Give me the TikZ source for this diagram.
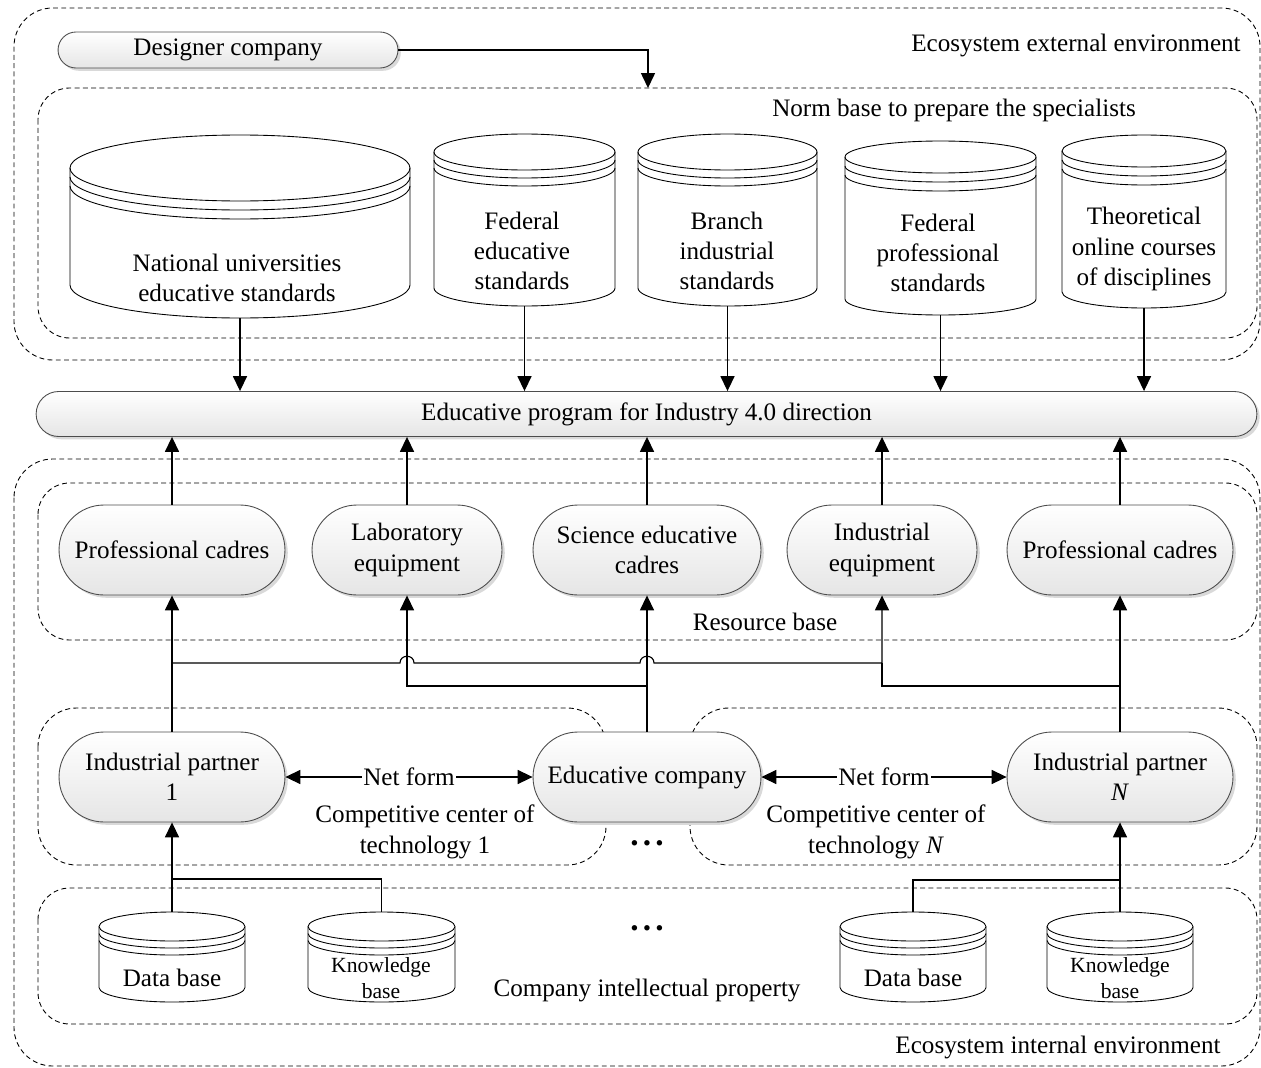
\documentclass[tikz,border=0pt]{standalone}
\usepackage{fontspec}
\setmainfont{Liberation Serif}
\usetikzlibrary{arrows.meta,shapes.misc,shadows,calc}

\newcommand\msz{\fontsize{14.3}{17.3}\selectfont}
\newcommand\ssz{\fontsize{12.3}{15}\selectfont}

\tikzset{
  region/.style={draw=black, line width=0.5pt, dash pattern=on 2.8pt off 1.9pt},
  pill/.style={rounded rectangle, draw=black!70, line width=0.5pt,
    top color=white, bottom color=black!10,
    drop shadow={shadow xshift=1.6pt, shadow yshift=-1.6pt, fill=black!15, opacity=1},
    align=center, font=\msz, inner sep=0pt},
  cylline/.style={draw=black, line width=0.5pt},
  lbl/.style={font=\msz, align=center, inner sep=0pt},
  conn/.style={draw=black, line width=0.65pt},
  arr/.style={conn, -{Triangle[length=8.5pt,width=8pt]}},
  darr/.style={conn, {Triangle[length=8.5pt,width=8pt]}-{Triangle[length=8.5pt,width=8pt]}},
}

% name, x1, x2, ytop, ybot, ry, gap
\newcommand\cylinder[7]{%
  \pgfmathsetmacro\cylcx{(#2+#3)/2}%
  \pgfmathsetmacro\cylkx{0.5523*(#3-#2)/2}%
  \pgfmathsetmacro\cylky{0.5523*#6}%
  \pgfmathsetmacro\cylyc{#4+#6}%
  \pgfmathsetmacro\cylyb{#5-#6}%
  \pgfmathsetmacro\cylya{\cylyc+#7}%
  \pgfmathsetmacro\cylyd{\cylyc+2*#7}%
  \filldraw[cylline, fill=white] (#2,\cylyc) -- (#2,\cylyb)
    .. controls (#2,\cylyb+\cylky) and (\cylcx-\cylkx,#5) .. (\cylcx,#5)
    .. controls (\cylcx+\cylkx,#5) and (#3,\cylyb+\cylky) .. (#3,\cylyb)
    -- (#3,\cylyc)
    .. controls (#3,\cylyc-\cylky) and (\cylcx+\cylkx,#4) .. (\cylcx,#4)
    .. controls (\cylcx-\cylkx,#4) and (#2,\cylyc-\cylky) .. (#2,\cylyc) -- cycle;
  \draw[cylline] (#2,\cylyc) .. controls (#2,\cylyc+\cylky) and (\cylcx-\cylkx,\cylyc+#6) .. (\cylcx,\cylyc+#6)
    .. controls (\cylcx+\cylkx,\cylyc+#6) and (#3,\cylyc+\cylky) .. (#3,\cylyc);
  \draw[cylline] (#2,\cylya) .. controls (#2,\cylya+\cylky) and (\cylcx-\cylkx,\cylya+#6) .. (\cylcx,\cylya+#6)
    .. controls (\cylcx+\cylkx,\cylya+#6) and (#3,\cylya+\cylky) .. (#3,\cylya);
  \draw[cylline] (#2,\cylyd) .. controls (#2,\cylyd+\cylky) and (\cylcx-\cylkx,\cylyd+#6) .. (\cylcx,\cylyd+#6)
    .. controls (\cylcx+\cylkx,\cylyd+#6) and (#3,\cylyd+\cylky) .. (#3,\cylyd);
  \node[inner sep=0pt, minimum width={(#3-#2)*0.02cm}, minimum height={(#5-#4)*0.02cm}] (#1) at (\cylcx,{(#4+#5)/2}) {};
}

\begin{document}
\begin{tikzpicture}[x=0.02cm, y=-0.02cm]
\useasboundingbox (0,0) rectangle (1261,1068);

% ---------- regions ----------
\draw[region, rounded corners=22pt] (14,8) rectangle (1260,360);
\draw[region, rounded corners=18pt] (38,88) rectangle (1257,338);
\draw[region, rounded corners=22pt] (14,459) rectangle (1260,1066);
\draw[region, rounded corners=18pt] (38,483) rectangle (1257,640);
\draw[region, rounded corners=22pt] (38,708) rectangle (606,865);
\draw[region, rounded corners=22pt] (690,708) rectangle (1257,865);
\draw[region, rounded corners=18pt] (38,888) rectangle (1257,1024);

% ---------- region labels ----------
\node[lbl] (lext) at (1076,45) {Ecosystem external environment};
\node[lbl] (lnorm) at (954,110) {Norm base to prepare the specialists};
\node[lbl] (lres) at (765,622) {Resource base};
\node[lbl] (lcc1) at (425,832) {Competitive center of\\technology 1};
\node[lbl] (lccN) at (876,832) {Competitive center of\\technology \textit{N}};
\node[lbl] (lip) at (647,990) {Company intellectual property};
\node[lbl] (lint) at (1058,1047) {Ecosystem internal environment};
\node[lbl, font=\fontsize{19}{19}\selectfont\bfseries] (dots1) at (647,843) {.\kern2.4pt.\kern2.4pt.};
\node[lbl, font=\fontsize{19}{19}\selectfont\bfseries] (dots2) at (647,928) {.\kern2.4pt.\kern2.4pt.};

% ---------- designer ----------
\node[pill, minimum width=6.8cm, minimum height=0.72cm] (des) at (228,50) {Designer company};
\coordinate (normtop) at (648,88);
\draw[arr] (des.east) -| (normtop);

% ---------- norm base cylinders ----------
\cylinder{c1}{70}{410}{135}{318}{33}{9}
\cylinder{c2}{434}{615}{134}{306}{18}{8}
\cylinder{c3}{638}{817}{134}{306}{18}{8}
\cylinder{c4}{845}{1036}{141}{315}{16}{9}
\cylinder{c5}{1062}{1226}{135}{308}{16}{9}
\node[lbl] (t1) at (237,278) {National universities\\educative standards};
\node[lbl] (t2) at (522,251) {Federal\\educative\\standards};
\node[lbl] (t3) at (727,251) {Branch\\industrial\\standards};
\node[lbl] (t4) at (938,253) {Federal\\professional\\standards};
\node[lbl] (t5) at (1144,249) {Theoretical\\online courses\\of disciplines};

% ---------- program bar ----------
\node[pill, minimum width=24.42cm, minimum height=0.9cm] (bar) at (646.5,414) {Educative program for Industry 4.0 direction};

\foreach \c in {c1,c2,c3,c4,c5}{
  \draw[arr] (\c.south) -- (\c.south |- bar.north);
}

% ---------- resources ----------
\node[pill, minimum width=4.52cm, minimum height=1.8cm] (prof1) at (172,550) {Professional cadres};
\node[pill, minimum width=3.8cm, minimum height=1.8cm] (lab) at (407,550) {Laboratory\\equipment};
\node[pill, minimum width=4.56cm, minimum height=1.8cm] (sci) at (647,550) {Science educative\\cadres};
\node[pill, minimum width=3.8cm, minimum height=1.8cm] (indeq) at (882,550) {Industrial\\equipment};
\node[pill, minimum width=4.52cm, minimum height=1.8cm] (prof2) at (1120,550) {Professional cadres};

\foreach \r in {prof1,lab,sci,indeq,prof2}{
  \draw[arr] (\r.north) -- (\r.north |- bar.south);
}

% ---------- partners ----------
\node[pill, minimum width=4.52cm, minimum height=1.8cm] (ip1) at (172,777) {Industrial partner\\1};
\node[pill, minimum width=4.56cm, minimum height=1.8cm] (edu) at (647,777) {Educative company};
\node[pill, minimum width=4.52cm, minimum height=1.8cm] (ipN) at (1120,777) {Industrial partner\\\textit{N}};

\draw[darr] (ip1.east) -- (edu.west) node[midway, fill=white, inner sep=1pt, font=\msz] (nf1) {Net form};
\draw[darr] (edu.east) -- (ipN.west) node[midway, fill=white, inner sep=1pt, font=\msz] (nf2) {Net form};

\draw[arr] (ip1.north) -- (prof1.south);
\draw[arr] (edu.north) -- (sci.south);
\draw[arr] (ipN.north) -- (prof2.south);

\coordinate (a1) at (172,663);
\coordinate (a2) at (647,686);
\coordinate (a3) at (1120,686);
\draw[arr] (a1) -- (400,663) .. controls (400,654) and (414,654) .. (414,663)
  -- (640,663) .. controls (640,654) and (654,654) .. (654,663)
  -- (882,663) -- (indeq.south);
\draw[arr] (a2) -| (lab.south);
\draw[conn] (a3) -| (882,663);

% ---------- intellectual property cylinders ----------
\cylinder{db1}{99}{245}{912}{1002}{14.5}{7}
\cylinder{kb1}{308}{455}{912}{1002}{14.5}{7}
\cylinder{db2}{840}{986}{912}{1002}{14.5}{7}
\cylinder{kb2}{1047}{1193}{912}{1002}{14.5}{7}
\node[lbl] (tdb1) at (172,978) {Data base};
\node[lbl, font=\ssz] (tkb1) at (381,978) {Knowledge\\base};
\node[lbl] (tdb2) at (913,978) {Data base};
\node[lbl, font=\ssz] (tkb2) at (1120,978) {Knowledge\\base};

\coordinate (j1) at (172,879);
\coordinate (j2) at (1120,880);
\draw[arr] (db1.north) -- (ip1.south);
\draw[conn] (kb1.north) |- (j1);
\draw[arr] (kb2.north) -- (ipN.south);
\draw[conn] (db2.north) |- (j2);
\end{tikzpicture}
\end{document}
